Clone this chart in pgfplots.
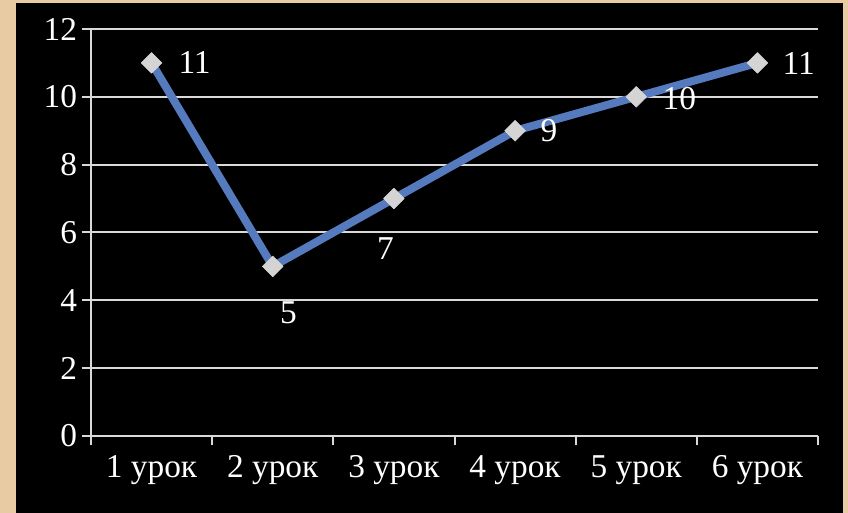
\documentclass[border=0pt]{standalone}
\usepackage{pgfplots}
\pgfplotsset{compat=1.18}
\usepackage{fontspec}
\setmainfont{Liberation Serif}
\definecolor{bgbeige}{HTML}{E8CBA2}
\definecolor{linecol}{RGB}{86,122,190}
\definecolor{gridc}{HTML}{D9D9D9}
\definecolor{markc}{HTML}{D4D4D4}
\newcommand{\lblfont}{\fontsize{25}{28}\selectfont}
\begin{document}
\begin{tikzpicture}
\fill[bgbeige] (0pt,0pt) rectangle (636pt,384.75pt);
\fill[black] (12pt,0pt) rectangle (632.25pt,382.5pt);
\begin{axis}[
  at={(68.25pt,57.75pt)}, anchor=south west,
  scale only axis, width=545.25pt, height=305.25pt,
  xmin=-0.5, xmax=5.5, ymin=0, ymax=12,
  ytick={0,2,...,12},
  xtick={0,...,5},
  xticklabels={1 урок,2 урок,3 урок,4 урок,5 урок,6 урок},
  extra x ticks={-0.5,0.5,...,5.5},
  extra x tick labels={},
  extra x tick style={xtick style={draw=gridc, line width=1.5pt}},
  xtick style={draw=none},
  ytick style={draw=gridc, line width=1.5pt},
  tick align=outside,
  major tick length=7pt,
  axis lines*=left,
  axis line style={draw=gridc, line width=1.5pt},
  ymajorgrids,
  major grid style={draw=gridc, line width=1.5pt},
  tick label style={font=\lblfont, text=white},
  xticklabel style={yshift=-4pt},
  /pgf/number format/assume math mode=true,
  clip=false,
]
\addplot[linecol, line width=6pt, line join=round,
  mark=square*, mark size=5.5pt,
  mark options={rotate=45, fill=markc, draw=markc, line width=0.4pt}]
  coordinates {(0,11) (1,5) (2,7) (3,9) (4,10) (5,11)};
\node[font=\lblfont, text=white] at (axis cs:0.355,11) {11};
\node[font=\lblfont, text=white] at (axis cs:1.13,3.63) {5};
\node[font=\lblfont, text=white] at (axis cs:1.93,5.54) {7};
\node[font=\lblfont, text=white] at (axis cs:3.28,8.99) {9};
\node[font=\lblfont, text=white] at (axis cs:4.355,9.96) {10};
\node[font=\lblfont, text=white] at (axis cs:5.34,10.97) {11};
\end{axis}
\end{tikzpicture}
\end{document}
